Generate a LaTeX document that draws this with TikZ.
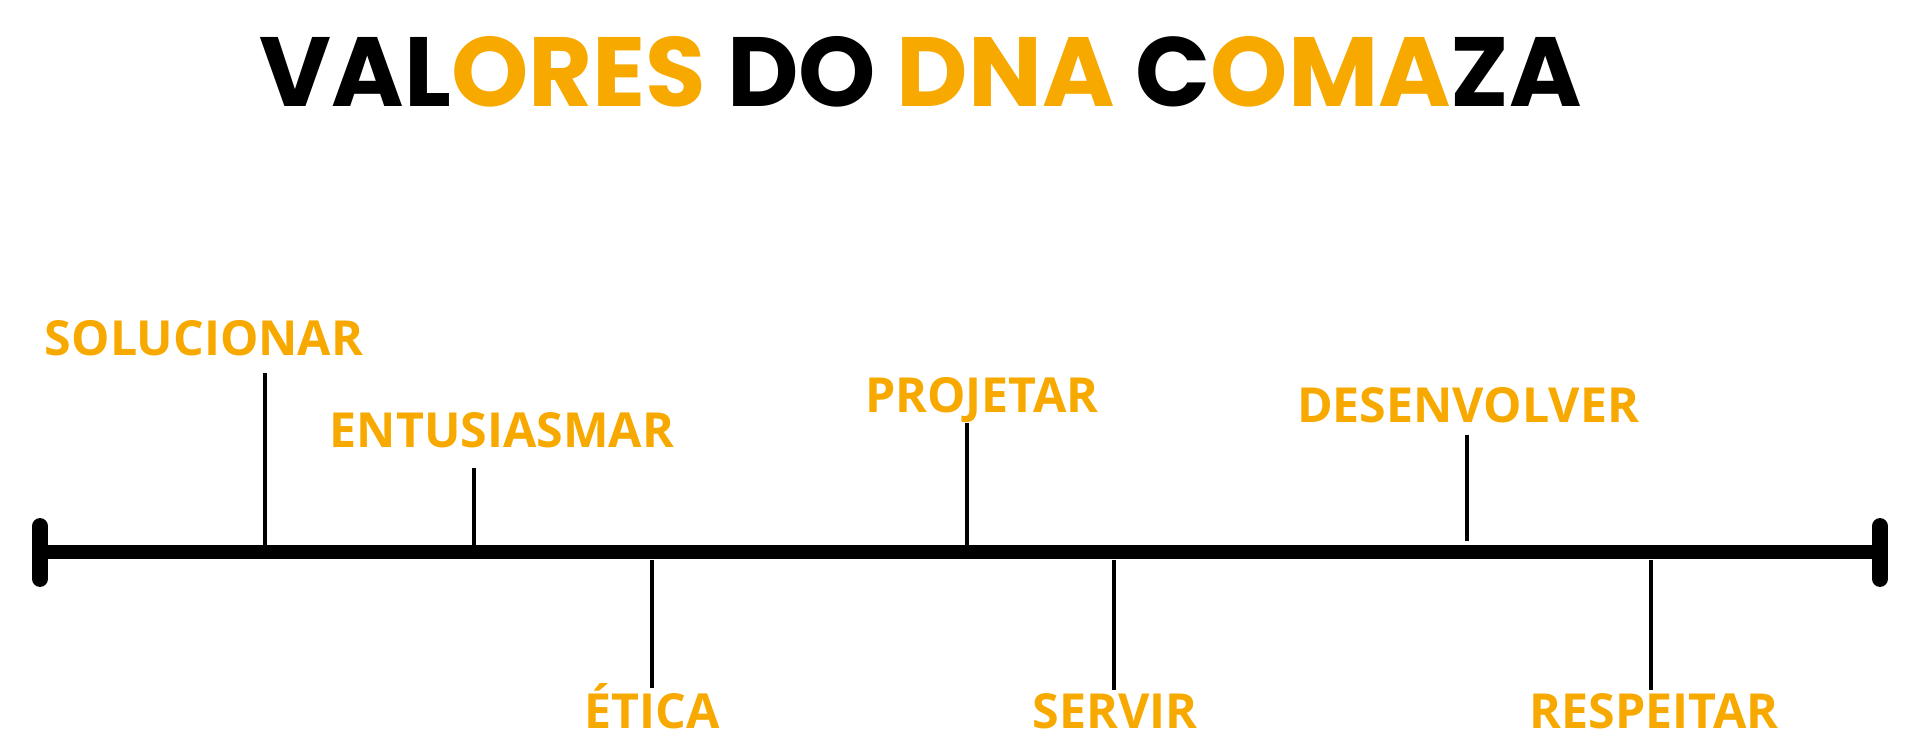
\documentclass[tikz,border=0pt]{standalone}
\usepackage{fontspec}
\newfontfamily\titlefont{Poppins}
\newfontfamily\labfont{Open Sans}
\definecolor{og}{HTML}{F7A900}
\begin{document}
\begin{tikzpicture}[x=0.02cm,y=-0.02cm,
  lab/.style={font=\labfont\bfseries\fontsize{27.5}{30}\selectfont,text=og,inner sep=0pt,anchor=base},
  tick/.style={line width=2.2pt}]
\useasboundingbox (0,0) rectangle (1920,756);
\node[font=\titlefont\bfseries\fontsize{56}{60}\selectfont,inner sep=0pt,anchor=base] (title) at (921,107)
 {VAL\textcolor{og}{ORES} DO \textcolor{og}{DNA} C\textcolor{og}{OMA}ZA};
\coordinate (L) at (40,552); \coordinate (R) at (1880,552);
\draw[line width=8.5pt] (L) -- (R);
\draw[line width=9pt,line cap=round] (40,526) -- (40,579);
\draw[line width=9pt,line cap=round] (1880,526) -- (1880,579);
% above
\node[lab] (s) at (204,356) {SOLUCIONAR};
\draw[tick] (265,373) -- (265,545);
\node[lab] (e) at (502,448) {ENTUSIASMAR};
\draw[tick] (474,468) -- (474,545);
\node[lab] (p) at (982,413) {PROJETAR};
\draw[tick] (967,423) -- (967,545);
\node[lab] (d) at (1468,423) {DESENVOLVER};
\draw[tick] (1467,435) -- (1467,541);
% below
\draw[tick] (652,560) -- (652,688);
\node[lab] (et) at (652,728) {ÉTICA};
\draw[tick] (1114,560) -- (1114,690);
\node[lab] (sv) at (1115,728) {SERVIR};
\draw[tick] (1651,560) -- (1651,690);
\node[lab] (r) at (1654,728) {RESPEITAR};
\end{tikzpicture}
\end{document}
